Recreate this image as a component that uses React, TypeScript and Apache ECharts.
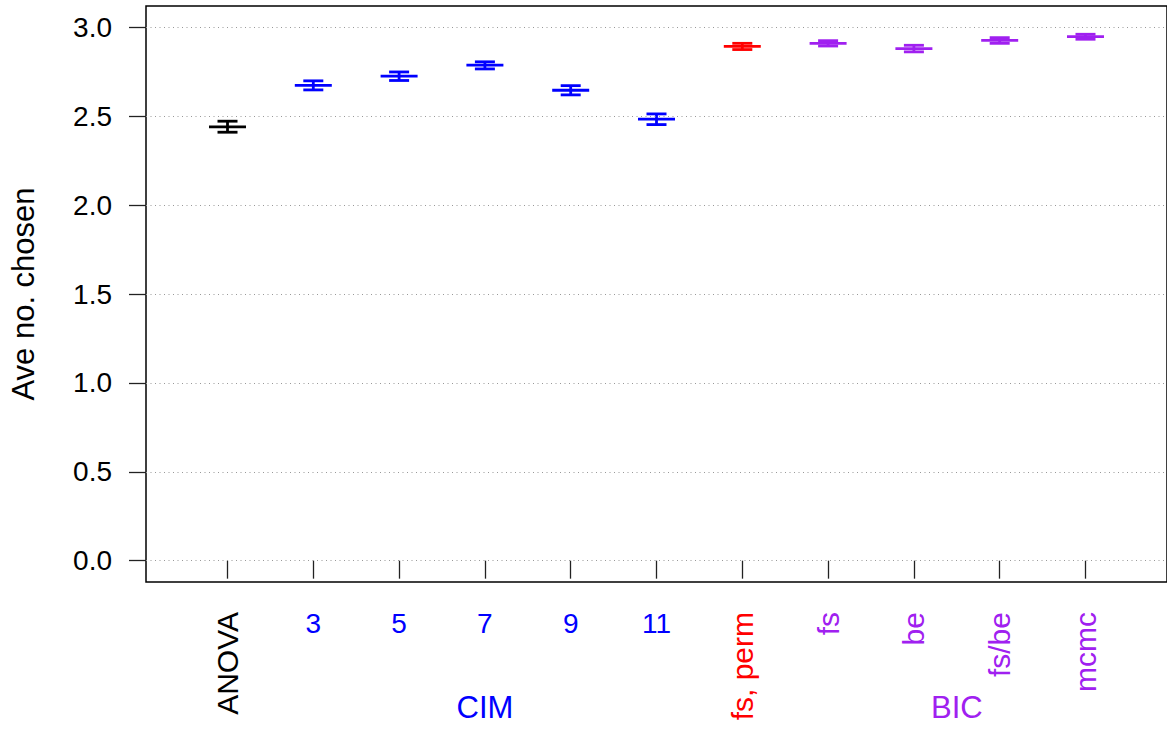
import React, { useEffect, useRef } from "react";
import * as echarts from "echarts";

const categories = ["ANOVA", "3", "5", "7", "9", "11", "fs, perm", "fs", "be", "fs/be", "mcmc"];
const catColors = ["#000000", "#0000FF", "#0000FF", "#0000FF", "#0000FF", "#0000FF", "#FF0000", "#A020F0", "#A020F0", "#A020F0", "#A020F0"];
const means = [2.44, 2.674, 2.725, 2.787, 2.646, 2.484, 2.893, 2.91, 2.88, 2.927, 2.948];
const lower = [2.41, 2.648, 2.701, 2.766, 2.62, 2.453, 2.875, 2.895, 2.862, 2.91, 2.933];
const upper = [2.472, 2.699, 2.749, 2.806, 2.672, 2.513, 2.91, 2.925, 2.899, 2.942, 2.961];
const yTicks = [0, 0.5, 1, 1.5, 2, 2.5, 3];
const groupNames = ["CIM", "BIC"];
const groupCenters = [4, 9.5];
const groupColors = ["#0000FF", "#A020F0"];

const positions = categories.map((_, i) => i + 1);
const rotatedPos = positions.filter((p) => isNaN(Number(categories[p - 1])));
const numberPos = positions.filter((p) => !isNaN(Number(categories[p - 1])));

const FONT = "Liberation Sans, Arial, Helvetica, sans-serif";

export default function App() {
  const ref = useRef<HTMLDivElement>(null);
  useEffect(() => {
    const chart = echarts.init(ref.current!, null, { renderer: "svg" });
    const data = positions.map((p, i) => [p, means[i], lower[i], upper[i]]);
    const xBase = { type: "value", min: 0.05, max: 11.95, position: "bottom", splitLine: { show: false }, axisLine: { show: false } };
    chart.setOption({
      animation: false,
      backgroundColor: "#ffffff",
      grid: { left: 145, top: 6, width: 1024, height: 576, show: true, borderColor: "#000", borderWidth: 1.5, backgroundColor: "transparent" },
      xAxis: [
        {
          ...xBase,
          axisTick: { show: true, length: 18, lineStyle: { color: "#222", width: 1.3 }, customValues: positions },
          axisLabel: {
            customValues: rotatedPos,
            rotate: 90,
            margin: 30,
            fontSize: 30,
            fontFamily: FONT,
            formatter: (v: number) => categories[Math.round(v) - 1],
            color: (v: number) => catColors[Math.round(Number(v)) - 1],
          },
        },
        {
          ...xBase,
          axisTick: { show: false },
          axisLabel: {
            customValues: numberPos,
            margin: 27,
            fontSize: 28,
            fontFamily: FONT,
            formatter: (v: number) => categories[Math.round(v) - 1],
            color: (v: number) => catColors[Math.round(Number(v)) - 1],
          },
        },
        {
          ...xBase,
          axisTick: { show: false },
          axisLabel: {
            customValues: groupCenters,
            margin: 110,
            fontSize: 31,
            fontFamily: FONT,
            formatter: (v: number) => groupNames[groupCenters.indexOf(v)],
            color: (v: number) => groupColors[groupCenters.indexOf(Number(v))],
          },
        },
      ],
      yAxis: {
        type: "value",
        min: -0.12,
        max: 3.12,
        name: "Ave no. chosen",
        nameLocation: "middle",
        nameRotate: 90,
        nameGap: 107,
        nameTextStyle: { fontSize: 31, fontFamily: FONT, color: "#000" },
        axisLine: { show: false },
        splitLine: { show: false },
        axisTick: { show: true, length: 17, lineStyle: { color: "#222", width: 1.3 }, customValues: yTicks },
        axisLabel: {
          customValues: yTicks,
          margin: 34,
          fontSize: 28,
          fontFamily: FONT,
          color: "#000",
          formatter: (v: number) => v.toFixed(1),
        },
      },
      series: [
        {
          type: "custom",
          xAxisIndex: 0,
          data,
          renderItem: (params: any, api: any) => {
            const x = api.value(0);
            const m = api.coord([x, api.value(1)]);
            const lo = api.coord([x, api.value(2)]);
            const hi = api.coord([x, api.value(3)]);
            const color = catColors[params.dataIndex];
            const st = { stroke: color, lineWidth: 2.8 };
            return {
              type: "group",
              children: [
                { type: "line", shape: { x1: m[0] - 18.5, y1: m[1], x2: m[0] + 18.5, y2: m[1] }, style: st },
                { type: "line", shape: { x1: m[0], y1: lo[1], x2: m[0], y2: hi[1] }, style: st },
                { type: "line", shape: { x1: m[0] - 10, y1: lo[1], x2: m[0] + 10, y2: lo[1] }, style: st },
                { type: "line", shape: { x1: m[0] - 10, y1: hi[1], x2: m[0] + 10, y2: hi[1] }, style: st },
              ],
            };
          },
          markLine: {
            silent: true,
            symbol: "none",
            label: { show: false },
            lineStyle: { color: "#999999", width: 1, type: [1, 3.5] },
            data: yTicks.map((t) => ({ yAxis: t })),
          },
          z: 3,
        },
      ],
    });
    return () => chart.dispose();
  }, []);
  return <div ref={ref} style={{ position: "absolute", left: 0, top: 0, width: 1167, height: 730 }} />;
}
